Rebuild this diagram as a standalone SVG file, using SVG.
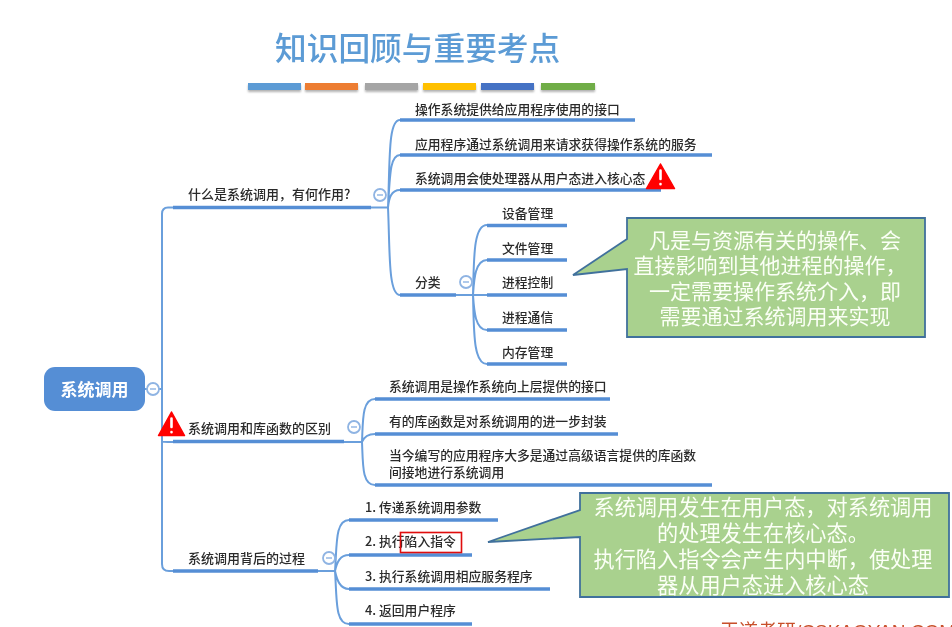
<svg xmlns="http://www.w3.org/2000/svg" width="952" height="627" viewBox="0 0 952 627">
<style>
text{font-family:"Noto Sans CJK SC","Noto Sans",sans-serif;fill:#2b2b2b;font-weight:500}
.t{font-size:12.8px}
.b{font-size:13px}
.c{fill:none;stroke:#6a9fdc;stroke-width:2}
.u{fill:none;stroke:#558ed5;stroke-width:3.6}
.m{fill:#fff;stroke:#8fb4e3;stroke-width:1.8}
.d{stroke:#8fb4e3;stroke-width:1.4}
.co{fill:#a9d18e;stroke:#41719c;stroke-width:1.8}
.w{fill:#fbfff6;text-anchor:middle;font-weight:400}
.tri{fill:#f00;stroke:#f00;stroke-width:1.5;stroke-linejoin:round}
.ex{stroke:#fff;stroke-width:2.6;stroke-linecap:round}
</style>
<defs>
<filter id="s" x="-5%" y="-50%" width="110%" height="250%"><feDropShadow dx="0" dy="2" stdDeviation="1.2" flood-color="#000" flood-opacity=".3"/></filter>
<filter id="soft" x="0" y="0" width="100%" height="100%"><feGaussianBlur stdDeviation="0.45"/></filter>
</defs>
<rect width="952" height="627" fill="#fff"/>
<g filter="url(#soft)">
<g id="title">
<text x="275" y="60" font-size="31.7" style="fill:#5b9bd5">知识回顾与重要考点</text>
<g filter="url(#s)">
<rect x="248" y="83" width="53" height="7" fill="#5b9bd5"/>
<rect x="305" y="83" width="53" height="7" fill="#ed7d31"/>
<rect x="365" y="83" width="53" height="7" fill="#a5a5a5"/>
<rect x="423" y="83" width="53" height="7" fill="#ffc000"/>
<rect x="481" y="83" width="53" height="7" fill="#4472c4"/>
<rect x="541" y="83" width="54" height="7" fill="#70ad47"/>
</g>
</g>
<g id="connectors">
<path class="c" d="M145 389H162M173 207.500H168Q162 207.500 162 214V564Q162 571 169 571H173M162 441.500Q162 442 173 442"/>
<path class="c" d="M371 207.500H388M388 207.500C390 160 388 120 400 120M388 207.500C390 175 390 155 400 155M388 207.500C389 198 391 190 400 190M388 207.500C390 250 388 295 400 295"/>
<path class="c" d="M456 295H487M473 295C474 260 473 225 487 225M473 295C474 280 475 260 487 260M473 295C474 310 475 330 487 330M473 295C474 330 473 364 487 364"/>
<path class="c" d="M344 442H362M362 442C363 420 362 399 375 399M362 442C364 437 368 434 375 434M362 442C363 465 362 485 375 485"/>
<path class="c" d="M318 571H335M335 571C337 545 335 520 349 520M335 571C337 562 340 555 349 555M335 571C337 580 340 589 349 589M335 571C337 600 335 624 349 624"/>
</g>
<g id="root"><rect x="44" y="367" width="101" height="44" rx="11" fill="#558ed5"/><text x="94.500" y="396" font-size="17" text-anchor="middle" style="fill:#fff;font-weight:700">系统调用</text></g>
<g id="m0"><circle class="m" cx="153" cy="389" r="6"/><path class="d" d="M150 389h6"/></g>
<g id="n1"><path class="u" d="M173 207.500H371"/><text class="b" x="188" y="199">什么是系统调用，有何作用?</text><circle class="m" cx="380" cy="195" r="6"/><path class="d" d="M377 195h6"/></g>
<g id="n2"><path class="u" d="M400 120H635"/><text class="t" x="415" y="114">操作系统提供给应用程序使用的接口</text></g>
<g id="n3"><path class="u" d="M400 155H712"/><text class="t" x="415" y="149">应用程序通过系统调用来请求获得操作系统的服务</text></g>
<g id="n4"><path class="u" d="M400 190H661"/><text class="t" x="415" y="183">系统调用会使处理器从用户态进入核心态</text></g>
<g id="warn1"><path class="tri" d="M660.500 164L674.500 188.500H646.500Z"/><path class="ex" d="M660.500 170.500V179M660.500 184V184.200"/></g>
<g id="n5"><path class="u" d="M400 295H456"/><text class="t" x="415" y="287">分类</text><circle class="m" cx="466" cy="282" r="6"/><path class="d" d="M463 282h6"/></g>
<g id="n6"><path class="u" d="M487 225.500H567"/><text class="t" x="502" y="218">设备管理</text></g>
<g id="n7"><path class="u" d="M487 260H567"/><text class="t" x="502" y="253">文件管理</text></g>
<g id="n8"><path class="u" d="M487 295H567"/><text class="t" x="502" y="287">进程控制</text></g>
<g id="n9"><path class="u" d="M487 330H567"/><text class="t" x="502" y="322">进程通信</text></g>
<g id="n10"><path class="u" d="M487 364H567"/><text class="t" x="502" y="357">内存管理</text></g>
<g id="callout1"><path class="co" d="M627 218H925V337H627V269L573 275L627 239Z"/>
<text class="w" font-size="21"><tspan x="775" y="248">凡是与资源有关的操作、会</tspan><tspan x="770" y="273">直接影响到其他进程的操作，</tspan><tspan x="775" y="299">一定需要操作系统介入，即</tspan><tspan x="775" y="324">需要通过系统调用来实现</tspan></text></g>
<g id="n11"><path class="u" d="M173 441.500H344"/><text class="b" x="188" y="433">系统调用和库函数的区别</text><circle class="m" cx="354" cy="427" r="6"/><path class="d" d="M351 427h6"/></g>
<g id="warn2"><path class="tri" d="M171.500 412L184.500 435.500H158.500Z"/><path class="ex" d="M171.500 418.500V427M171.500 432V432.200"/></g>
<g id="n12"><path class="u" d="M375 399H610"/><text class="t" x="389" y="391">系统调用是操作系统向上层提供的接口</text></g>
<g id="n13"><path class="u" d="M375 434H618"/><text class="t" x="389" y="426">有的库函数是对系统调用的进一步封装</text></g>
<g id="n14"><path class="u" d="M375 485H712"/><text class="t" x="389" y="460">当今编写的应用程序大多是通过高级语言提供的库函数</text><text class="t" x="389" y="477">间接地进行系统调用</text></g>
<g id="n15"><path class="u" d="M173 571H318"/><text class="b" x="188" y="563">系统调用背后的过程</text><circle class="m" cx="329" cy="558" r="6"/><path class="d" d="M326 558h6"/></g>
<g id="n16"><path class="u" d="M349 520H498"/><text class="t" x="365" y="512">1. 传递系统调用参数</text></g>
<g id="n17"><path class="u" d="M349 555H472"/><text class="t" x="365" y="546">2. 执行陷入指令</text><rect x="400.500" y="532.500" width="61" height="20" fill="none" stroke="#e01010" stroke-width="1.6"/></g>
<g id="n18"><path class="u" d="M349 589H550"/><text class="t" x="365" y="581">3. 执行系统调用相应服务程序</text></g>
<g id="n19"><path class="u" d="M349 624H472"/><text class="t" x="365" y="615">4. 返回用户程序</text></g>
<g id="callout2"><path class="co" d="M580 493H949V597H580V537L488 542L580 510Z"/>
<text class="w" font-size="21.200"><tspan x="763" y="515">系统调用发生在用户态，对系统调用</tspan><tspan x="763" y="541">的处理发生在核心态。</tspan><tspan x="763" y="567">执行陷入指令会产生内中断，使处理</tspan><tspan x="763" y="593">器从用户态进入核心态</tspan></text></g>
<text x="720" y="638" font-size="19" style="fill:#c8502a;font-family:'Liberation Sans','Noto Sans CJK SC',sans-serif;font-weight:400">王道考研/CSKAOYAN.COM</text>
</g>
</svg>
